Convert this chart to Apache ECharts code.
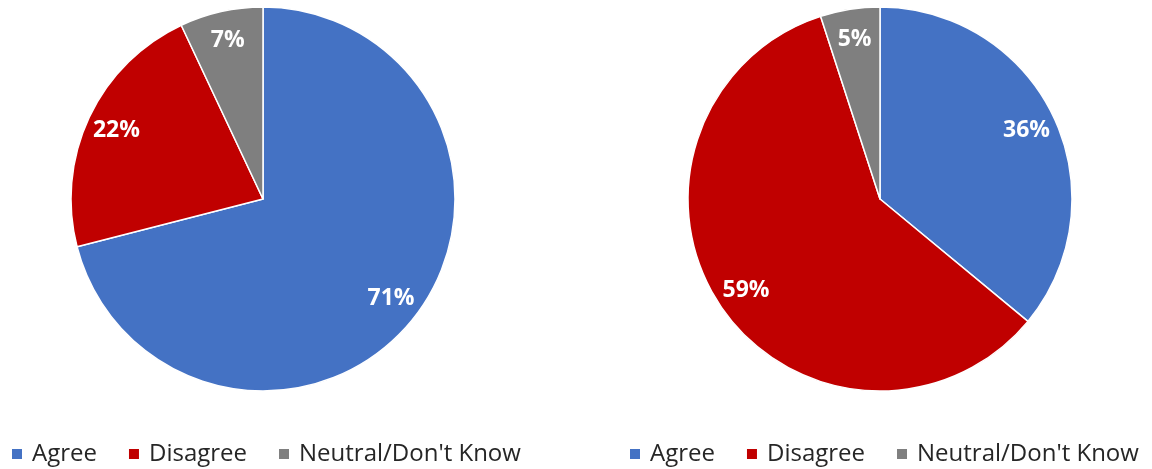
<!DOCTYPE html>
<html>
<head>
<meta charset="utf-8">
<script src="https://cdn.jsdelivr.net/npm/echarts@6/dist/echarts.min.js"></script>
<style>
html,body{margin:0;padding:0;background:#fff;}
#chart{width:1152px;height:469px;}
</style>
</head>
<body>
<div id="chart"></div>
<script>
const categories = ['Agree', 'Disagree', "Neutral/Don't Know"];
const leftValues = [71, 22, 7];
const rightValues = [36, 59, 5];
const colors = ['#4472C4', '#C00000', '#7F7F7F'];

function mkData(vals) {
  return categories.map((n, i) => ({ name: n, value: vals[i], itemStyle: { color: colors[i] } }));
}
const FONT = '"Open Sans", sans-serif';
function pieSeries(vals, cx) {
  return {
    type: 'pie',
    center: [cx, 199],
    radius: 192,
    startAngle: 90,
    clockwise: true,
    animation: false,
    silent: true,
    data: mkData(vals),
    itemStyle: { borderColor: '#ffffff', borderWidth: 1.5 },
    label: { show: false },
    labelLine: { show: false },
    emphasis: { disabled: true }
  };
}
function labelSeries(vals, cx) {
  return {
    type: 'pie',
    center: [cx, 199],
    radius: [126, 192],
    startAngle: 90,
    clockwise: true,
    animation: false,
    silent: true,
    data: categories.map((n, i) => ({ name: n, value: vals[i] })),
    itemStyle: { color: 'rgba(0,0,0,0)', borderWidth: 0 },
    label: {
      show: true, position: 'inside', formatter: '{c}%',
      color: '#ffffff', fontFamily: FONT, fontWeight: 'bold', fontSize: 23
    },
    labelLine: { show: false },
    emphasis: { disabled: true }
  };
}
function legend(left) {
  return {
    left: left, top: 435,
    orient: 'horizontal',
    data: categories,
    icon: 'rect',
    itemWidth: 12, itemHeight: 12,
    itemGap: 30,
    selectedMode: false,
    textStyle: { fontFamily: FONT, fontSize: 24, color: '#262626', padding: [0, 0, 0, 4], lineHeight: 28 }
  };
}
const chart = echarts.init(document.getElementById('chart'), null, { renderer: 'canvas' });
chart.setOption({
  backgroundColor: '#ffffff',
  animation: false,
  legend: [legend(5), legend(623)],
  series: [pieSeries(leftValues, 263), pieSeries(rightValues, 880), labelSeries(leftValues, 263), labelSeries(rightValues, 880)]
});
</script>
</body>
</html>
